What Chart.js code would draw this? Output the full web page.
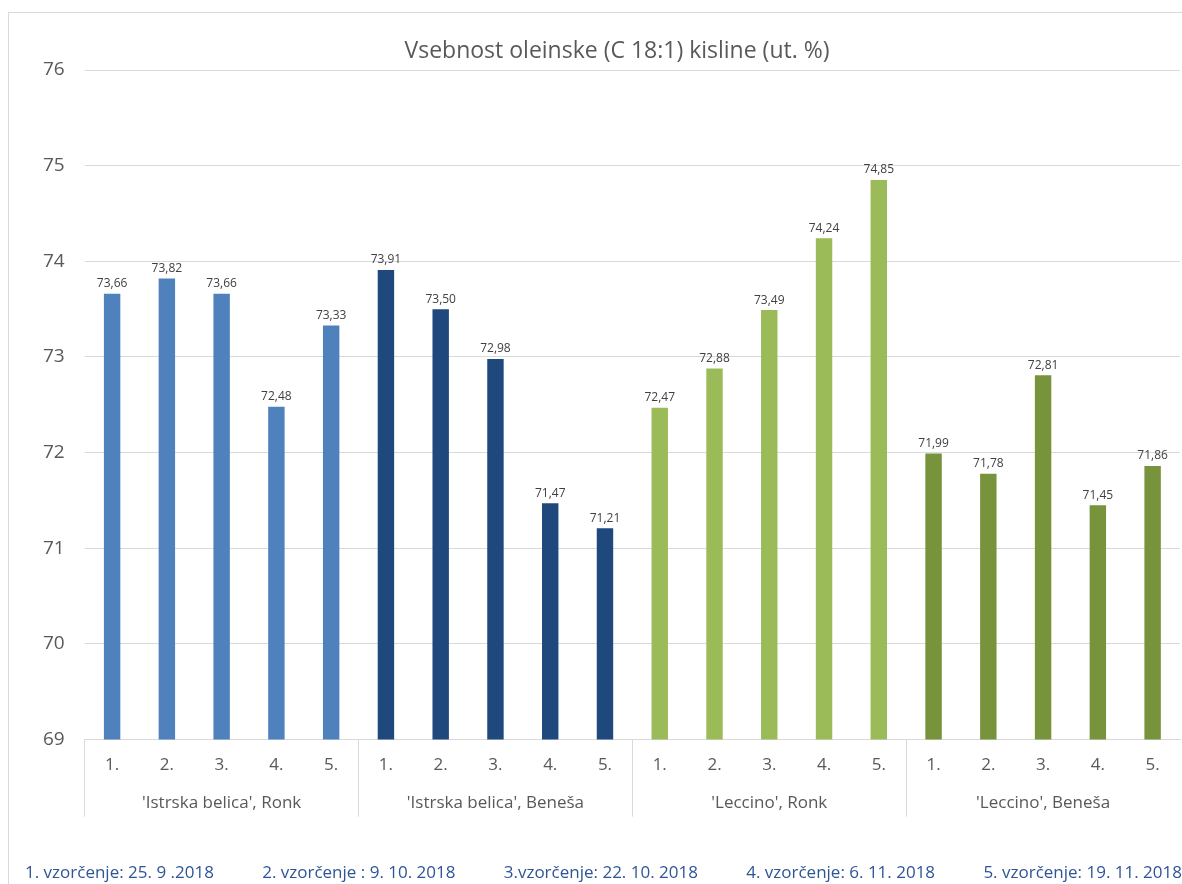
<meta charset="utf-8">
<title>Oleinska kislina</title>
<script src="https://cdn.jsdelivr.net/npm/chart.js@4"></script>
<style>
    html, body{
        margin: 0;
        overflow: hidden;
        background: #fff;
        font-family: "Open Sans", sans-serif;
    }
    .frame{
        position: absolute;
        left: 8px;
        top: 12px;
        width: 1216px;
        height: 871px;
        border-top: 1px solid #d9d9d9;
        border-left: 1px solid #d9d9d9;
    }
    .title{
        position: absolute;
        left: 9px;
        width: 1216px;
        top: 34px;
        text-align: center;
        color: #595959;
        font-size: 23px;
        line-height: 30px;
    }
    .notes{
        position: absolute;
        left: 25px;
        right: 0;
        top: 860px;
        display: flex;
        justify-content: space-between;
        color: #2f5597;
        font-size: 17px;
        white-space: nowrap;
    }
</style>

<div class="frame">
    <canvas id="myChart"></canvas>
</div>
<div class="title" id="title"></div>
<div class="notes" id="notes"></div>

<script>

    const title = 'Vsebnost oleinske (C 18:1) kisline (ut. %)'
    const groups = ["'Istrska belica', Ronk", "'Istrska belica', Beneša", "'Leccino', Ronk", "'Leccino', Beneša"]
    const samples = ['1.', '2.', '3.', '4.', '5.']
    const istrskaRonk = [73.66, 73.82, 73.66, 72.48, 73.33]
    const istrskaBenesa = [73.91, 73.50, 72.98, 71.47, 71.21]
    const leccinoRonk = [72.47, 72.88, 73.49, 74.24, 74.85]
    const leccinoBenesa = [71.99, 71.78, 72.81, 71.45, 71.86]
    const groupColors = ['#4f81bd', '#1f497d', '#9bbb59', '#77933c']
    const notes = [
        '1. vzorčenje: 25. 9 .2018',
        '2. vzorčenje : 9. 10. 2018',
        '3.vzorčenje: 22. 10. 2018',
        '4. vzorčenje: 6. 11. 2018',
        '5. vzorčenje: 19. 11. 2018'
    ]

    const series = [istrskaRonk, istrskaBenesa, leccinoRonk, leccinoBenesa]
    const labels = []
    const values = []
    const colors = []
    series.forEach((s, g) => {
        s.forEach((v, i) => {
            labels.push(samples[i])
            values.push(v)
            colors.push(groupColors[g])
        })
    })

    document.getElementById('title').textContent = title
    document.getElementById('notes').innerHTML = notes.map(n => '<span>' + n + '</span>').join('')

    // numbers above the bars, comma as decimal sign
    const valueLabels = {
        id: 'valueLabels',
        afterDatasetsDraw(chart){
            const c = chart.ctx
            c.save()
            c.font = '12px "Open Sans"'
            c.fillStyle = '#404040'
            c.textAlign = 'center'
            c.textBaseline = 'bottom'
            chart.getDatasetMeta(0).data.forEach((bar, i) => {
                c.fillText(values[i].toFixed(2).replace('.', ','), bar.x, bar.y - 4)
            })
            c.restore()
        }
    }

    const ctx = document.getElementById('myChart')

    const chart = new Chart(ctx, {
        type: 'bar',
        data: {
            labels: labels,
            datasets: [{
                data: values,
                backgroundColor: colors,
                barPercentage: 0.3,
                categoryPercentage: 1
            }]
        },
        options: {
            responsive: true,
            maintainAspectRatio: false,
            animation: false,
            layout: {
                padding: {left: 14, right: 45, top: 57, bottom: 31}
            },
            plugins: {
                legend: {display: false},
                tooltip: {enabled: false}
            },
            scales: {
                y: {
                    min: 69,
                    max: 76,
                    ticks: {
                        stepSize: 1,
                        color: '#595959',
                        padding: 20,
                        font: {family: 'Open Sans', size: 19}
                    },
                    grid: {color: '#d9d9d9', drawTicks: false},
                    border: {display: false}
                },
                // sample numbers; the long ticks make the group separators
                x: {
                    ticks: {
                        color: '#595959',
                        mirror: true,
                        padding: -36,
                        font: {family: 'Open Sans', size: 17}
                    },
                    grid: {
                        drawOnChartArea: false,
                        tickLength: 77,
                        color: (c) => c.index % 5 === 0 ? '#d9d9d9' : 'rgba(0,0,0,0)'
                    },
                    border: {display: true, color: '#d9d9d9'}
                },
                // group names under the sample numbers
                x2: {
                    type: 'category',
                    position: 'bottom',
                    labels: groups,
                    offset: true,
                    ticks: {
                        color: '#595959',
                        padding: 40,
                        font: {family: 'Open Sans', size: 17}
                    },
                    grid: {display: false},
                    border: {display: false}
                }
            }
        },
        plugins: [valueLabels]
    })

</script>
